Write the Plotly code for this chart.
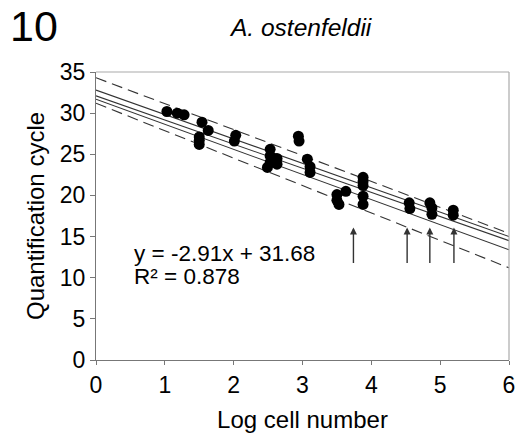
import plotly.graph_objects as go

# Data points (Log cell number, Quantification cycle)
log_cells = [1.03, 1.18, 1.28, 1.54, 1.63, 1.50, 1.50, 1.50, 2.03, 2.01,
             2.53, 2.53, 2.53, 2.49, 2.63, 2.63, 2.94, 2.95, 3.07, 3.11,
             3.11, 3.50, 3.50, 3.53, 3.63, 3.88, 3.88, 3.88, 3.88, 3.88,
             4.55, 4.56, 4.85, 4.88, 4.88, 5.19, 5.19]
cq_values = [30.2, 30.0, 29.8, 28.9, 27.9, 27.1, 26.7, 26.2, 27.3, 26.6,
             25.6, 24.8, 24.0, 23.4, 24.5, 23.8, 27.2, 26.6, 24.4, 23.5,
             22.8, 20.1, 19.4, 18.9, 20.5, 22.2, 21.7, 21.2, 19.9, 18.9,
             19.1, 18.4, 19.1, 18.5, 17.7, 18.2, 17.6]

# Lines: values at x=0 and x=6
line_x = [0, 6]
solid_lines = [[32.8, 15.0], [32.1, 14.5], [31.7, 13.4]]
dashed_lines = [[34.3, 15.4], [31.2, 11.2]]

# Arrows
arrow_x = [3.74, 4.52, 4.85, 5.20]
arrow_tail_y = 11.6
arrow_head_y = 16.1

x_ticks = [0, 1, 2, 3, 4, 5, 6]
y_ticks = [0, 5, 10, 15, 20, 25, 30, 35]

FONT = "Arial, Liberation Sans, sans-serif"

W, H = 516, 440
ML, MR, MT, MB = 96, 7, 72, 80
PW = W - ML - MR
PH = H - MT - MB


def px(xp):
    return (xp - ML) / PW


def py(yp):
    return (H - MB - yp) / PH


fig = go.Figure()

for vals in dashed_lines:
    fig.add_trace(go.Scatter(x=line_x, y=vals, mode="lines",
                             line=dict(color="#333333", width=1.1, dash="11px,6px"),
                             hoverinfo="skip", showlegend=False))
for vals in solid_lines:
    fig.add_trace(go.Scatter(x=line_x, y=vals, mode="lines",
                             line=dict(color="#333333", width=1.1),
                             hoverinfo="skip", showlegend=False))

fig.add_trace(go.Scatter(x=log_cells, y=cq_values, mode="markers",
                         marker=dict(color="black", size=11, line=dict(width=0)),
                         showlegend=False))

annotations = []
for xa in arrow_x:
    annotations.append(dict(x=xa, y=arrow_head_y, ax=xa, ay=arrow_tail_y,
                            xref="x", yref="y", axref="x", ayref="y",
                            text="", showarrow=True, arrowhead=2, arrowsize=1.0,
                            arrowwidth=1.4, arrowcolor="#333333"))

annotations += [
    dict(x=0.53, y=13.0, xref="x", yref="y", text="y = -2.91x + 31.68",
         showarrow=False, xanchor="left", yanchor="middle",
         font=dict(family=FONT, size=22.5, color="black")),
    dict(x=0.53, y=10.1, xref="x", yref="y", text="R² = 0.878",
         showarrow=False, xanchor="left", yanchor="middle",
         font=dict(family=FONT, size=22.5, color="black")),
    dict(x=px(8), y=py(26), xref="paper", yref="paper", text="10",
         showarrow=False, xanchor="left", yanchor="middle",
         font=dict(family=FONT, size=43, color="black")),
    dict(x=px(300), y=py(27), xref="paper", yref="paper",
         text="<i>A. ostenfeldii</i>", showarrow=False,
         xanchor="center", yanchor="middle",
         font=dict(family=FONT, size=24.5, color="black")),
]

fig.update_layout(
    width=W, height=H,
    margin=dict(l=ML, r=MR, t=MT, b=MB, autoexpand=False),
    paper_bgcolor="white", plot_bgcolor="white",
    font=dict(family=FONT, size=23, color="black"),
    showlegend=False,
    xaxis=dict(range=[0, 6], tickvals=x_ticks, ticks="outside", ticklen=4,
               tickcolor="#777777", showline=True, linecolor="#777777",
               linewidth=1.2, showgrid=False, zeroline=False, automargin=False,
               tickfont=dict(size=23),
               title=dict(text="Log cell number", font=dict(size=24), standoff=14)),
    yaxis=dict(range=[0, 35], tickvals=y_ticks, ticks="outside", ticklen=5,
               tickcolor="#777777", showline=True, linecolor="#777777",
               linewidth=1.2, showgrid=False, zeroline=False, automargin=False,
               tickfont=dict(size=23),
               title=dict(text="Quantification cycle", font=dict(size=24), standoff=8)),
    annotations=annotations,
    shapes=[
        dict(type="line", xref="paper", yref="paper", x0=0, x1=1, y0=1, y1=1,
             line=dict(color="#aaaaaa", width=1.2)),
        dict(type="line", xref="paper", yref="paper", x0=1, x1=1, y0=0, y1=1,
             line=dict(color="#aaaaaa", width=1.2)),
    ],
)

fig.write_html("out.html",
               config={"displayModeBar": False},
               post_script="document.body.style.margin='0';"
                           "document.body.style.overflow='hidden';")
